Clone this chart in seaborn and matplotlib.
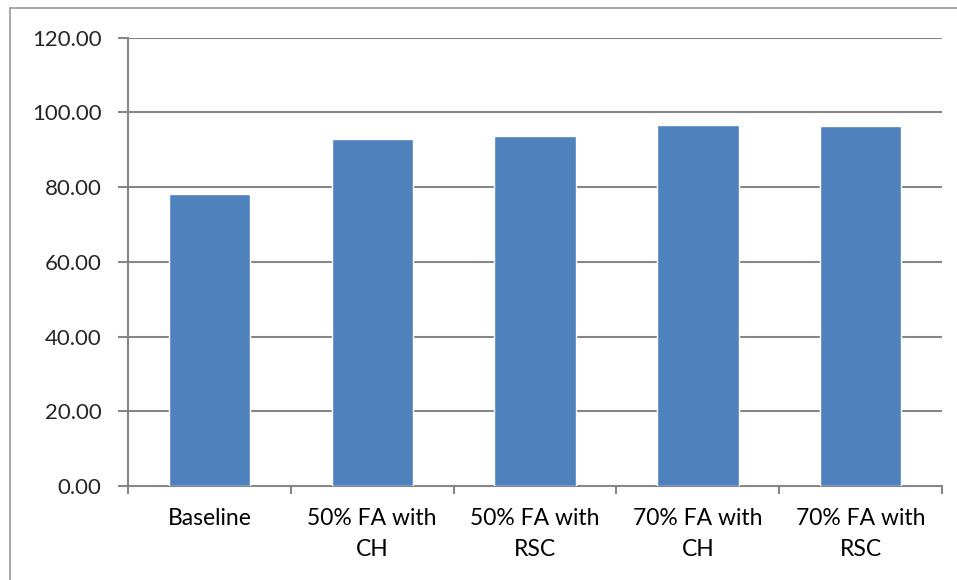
import matplotlib
matplotlib.use("Agg")
import matplotlib.pyplot as plt
import seaborn as sns
import pandas as pd
import numpy as np
from matplotlib.lines import Line2D

# Data
categories = ["Baseline", "50% FA with\nCH", "50% FA with\nRSC", "70% FA with\nCH", "70% FA with\nRSC"]
values = [78.2, 93.0, 93.6, 96.7, 96.4]
yticks = [0, 20, 40, 60, 80, 100, 120]

df = pd.DataFrame({"group": categories, "value": values})

sns.set_style("white")
plt.rcParams['font.family'] = ['Lato', 'DejaVu Sans']

fig = plt.figure(figsize=(9.57, 5.80), dpi=100)
ax = fig.add_axes([128/957, (580-486)/580, (942-128)/957, (486-37.7)/580])

sns.barplot(data=df, x="group", y="value", color="#4F81BD", width=0.5,
            saturation=1, ax=ax, zorder=3)

grid_col = "#868686"
ax.set_ylim(0, 120)
ax.set_xlim(-0.5, len(categories) - 0.5)
ax.set_yticks(yticks)
ax.set_yticklabels([f"{t:.2f}" for t in yticks])
for t in yticks[1:]:
    ax.axhline(t, color=grid_col, lw=1.5, zorder=1)

# ticks between categories
ax.set_xticks(np.arange(-0.5, len(categories)), minor=True)
ax.tick_params(axis="x", which="major", length=0, pad=16, labelsize=16.5, colors="black")
ax.tick_params(axis="x", which="minor", length=6, width=1.5, color=grid_col, direction="out", bottom=True)
ax.tick_params(axis="y", length=7, width=1.5, color=grid_col, direction="out", left=True,
               labelsize=16, pad=12)
for lab in ax.get_xticklabels():
    lab.set_linespacing(1.6)

ax.set_xlabel("")
ax.set_ylabel("")
for s in ["top", "right"]:
    ax.spines[s].set_visible(False)
for s in ["left", "bottom"]:
    ax.spines[s].set_color(grid_col)
    ax.spines[s].set_linewidth(1.5)

# outer chart frame (partially visible in the reference)
fig.add_artist(Line2D([10/957, 10/957], [0, 1 - 8/580], color="#9a9a9a", lw=1.2, transform=fig.transFigure))
fig.add_artist(Line2D([10/957, 1], [1 - 8/580, 1 - 8/580], color="#9a9a9a", lw=1.2, transform=fig.transFigure))

fig.savefig("out.png", dpi=100)
